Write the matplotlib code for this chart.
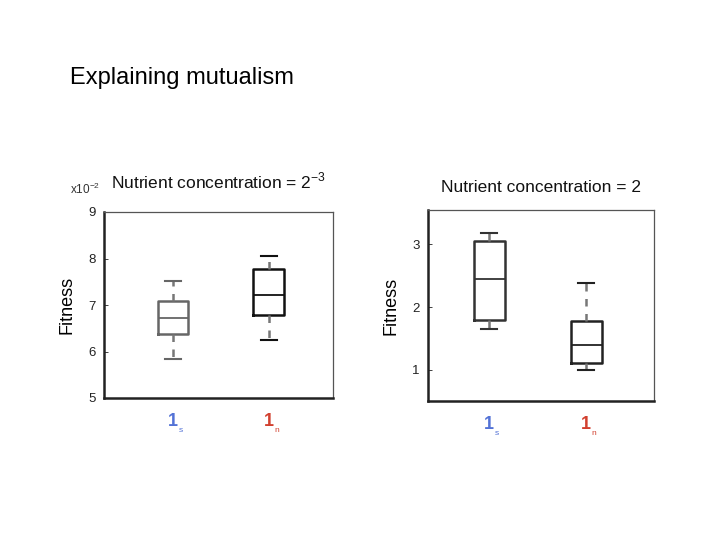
import matplotlib.pyplot as plt

plt.rcParams['font.family'] = ['Liberation Sans', 'DejaVu Sans']

# box statistics: whislo, q1, med, q3, whishi
groups = ["s", "n"]
group_colors = ["#5372d6", "#d2402f"]

low_stats = {  # nutrient concentration 2^-3, in units of 1e-2
    "s": [5.83, 6.38, 6.71, 7.08, 7.51],
    "n": [6.24, 6.78, 7.21, 7.77, 8.06],
}
high_stats = {  # nutrient concentration 2
    "s": [1.65, 1.80, 2.45, 3.06, 3.18],
    "n": [1.00, 1.11, 1.40, 1.78, 2.38],
}

low_yticks = [5, 6, 7, 8, 9]
high_yticks = [1, 2, 3]


def to_bxp(stats):
    out = []
    for g in groups:
        lo, q1, med, q3, hi = stats[g]
        out.append(dict(whislo=lo, q1=q1, med=med, q3=q3, whishi=hi, fliers=[], label=g))
    return out


def draw_panel(ax, stats, box_colors, title, pad):
    bp = ax.bxp(to_bxp(stats), positions=[1, 2], widths=0.32, capwidths=0.17,
                showfliers=False, patch_artist=False)
    for i, c in enumerate(box_colors):
        bp["boxes"][i].set(color=c, linewidth=1.8)
        bp["medians"][i].set(color=c, linewidth=1.3)
        for w in bp["whiskers"][2 * i:2 * i + 2]:
            w.set(color="#777777", linewidth=1.8, linestyle=(0, (3, 3)))
        for cap in bp["caps"][2 * i:2 * i + 2]:
            cap.set(color=c, linewidth=1.5)
    ax.set_xticks([1, 2])
    ax.set_xticklabels([])
    for x, g, col in zip([1, 2], groups, group_colors):
        ax.annotate("1", xy=(x, 0), xycoords=("data", "axes fraction"),
                    xytext=(0, -11), textcoords="offset points", ha="center", va="top",
                    color=col, fontsize=13, fontweight="bold")
        ax.annotate(g, xy=(x, 0), xycoords=("data", "axes fraction"),
                    xytext=(4, -21), textcoords="offset points", ha="left", va="top",
                    color=col, fontsize=6)
    ax.tick_params(direction="in", length=3, width=0.6, labelsize=9.5, colors="#222222", pad=6)
    ax.tick_params(axis="x", length=0)
    for side in ["top", "right"]:
        ax.spines[side].set(color="#555555", linewidth=0.9)
    for side in ["left", "bottom"]:
        ax.spines[side].set(color="#222222", linewidth=1.8)
    ax.set_ylabel("Fitness", fontsize=13, labelpad=9)
    ax.set_title(title, fontsize=12.5, color="#111111", pad=pad)


fig = plt.figure(figsize=(7.2, 5.4), dpi=100)
fig.text(70 / 720, 1 - 84 / 540, "Explaining mutualism", fontsize=17, ha="left", va="baseline")

ax1 = fig.add_axes([104 / 720, 1 - 398 / 540, 229 / 720, 186 / 540])
draw_panel(ax1, low_stats, ["#666666", "#111111"],
           "Nutrient concentration = 2$^{\\mathregular{-3}}$", 17)
ax1.set_xlim(0.28, 2.67)
ax1.set_ylim(5, 9)
ax1.set_yticks(low_yticks)
ax1.text(-0.15, 1.095, "x10$^{\\mathregular{-2}}$", transform=ax1.transAxes, fontsize=8.5,
         color="#333333")

ax2 = fig.add_axes([428 / 720, 1 - 401 / 540, 226 / 720, 191 / 540])
draw_panel(ax2, high_stats, ["#333333", "#222222"], "Nutrient concentration = 2", 13)
ax2.set_xlim(0.37, 2.70)
ax2.set_ylim(0.5, 3.55)
ax2.set_yticks(high_yticks)

fig.savefig("out.png", dpi=100)
